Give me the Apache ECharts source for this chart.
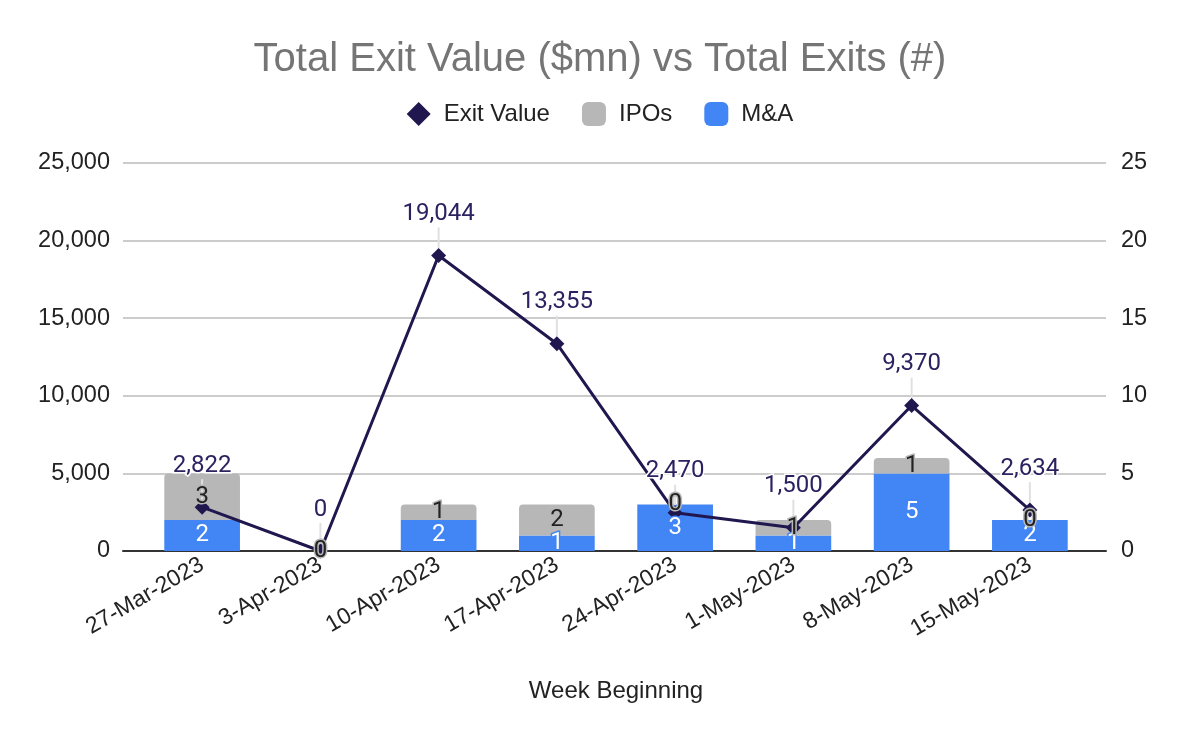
<!DOCTYPE html>
<html>
<head>
<meta charset="utf-8">
<script src="https://cdn.jsdelivr.net/npm/echarts@6/dist/echarts.min.js"></script>
<style>html,body{margin:0;padding:0;background:#fff}#c{width:1200px;height:742px}</style>
</head>
<body>
<div id="c"></div>
<script>
const categories = ['27-Mar-2023','3-Apr-2023','10-Apr-2023','17-Apr-2023','24-Apr-2023','1-May-2023','8-May-2023','15-May-2023'];
const exitValue = [2822, 0, 19044, 13355, 2470, 1500, 9370, 2634];
const ipos = [3, 0, 1, 2, 0, 1, 1, 0];
const mna = [2, 0, 2, 1, 3, 1, 5, 2];
const leftTicks = [0, 5000, 10000, 15000, 20000, 25000];
const rightTicks = [0, 5, 10, 15, 20, 25];

const axisFont = '"Liberation Sans", Arial, sans-serif';
const labelFont = 'Roboto, sans-serif';
const fmt = v => v.toLocaleString('en-US');

const chart = echarts.init(document.getElementById('c'), null, {renderer: 'canvas'});
const G_TOP = 163, G_BOTTOM = 191;

const mnaLabel = {show: true, position: 'inside', fontFamily: labelFont, fontSize: 24, color: '#fff',
                  textBorderColor: '#4285f4', textBorderWidth: 3};
const ipoLabel = {show: true, position: 'inside', fontFamily: labelFont, fontSize: 24, color: '#222',
                  textBorderColor: '#b7b7b7', textBorderWidth: 3};

chart.setOption({
  animation: false,
  title: {
    text: 'Total Exit Value ($mn) vs Total Exits (#)',
    left: 'center', top: 35,
    textStyle: {fontFamily: axisFont, fontSize: 40, fontWeight: 'normal', color: '#757575'}
  },
  legend: {
    top: 97, left: 'center',
    itemWidth: 24, itemHeight: 24, itemGap: 32,
    textStyle: {fontFamily: axisFont, fontSize: 24, color: '#222', padding: [0, 0, 0, 8]},
    data: [
      {name: 'Exit Value', icon: 'diamond'},
      {name: 'IPOs', icon: 'roundRect'},
      {name: 'M&A', icon: 'roundRect'}
    ]
  },
  grid: [
    {left: 123, right: 94, top: G_TOP, bottom: G_BOTTOM, containLabel: false},
    {left: 143, right: 111, top: G_TOP, bottom: G_BOTTOM, containLabel: false}
  ],
  xAxis: [
    {gridIndex: 0, type: 'value', min: 0, max: 1, show: true,
     axisLine: {show: true, onZero: false, lineStyle: {color: '#333', width: 2}},
     axisTick: {show: false}, axisLabel: {show: false}, splitLine: {show: false}},
    {gridIndex: 1, type: 'category', data: categories,
     axisLine: {show: false}, axisTick: {show: false},
     axisLabel: {rotate: 30, margin: 12, fontFamily: axisFont, fontSize: 23, color: '#222'},
     name: 'Week Beginning', nameLocation: 'middle', nameGap: 128,
     nameTextStyle: {fontFamily: axisFont, fontSize: 24, color: '#222'}}
  ],
  yAxis: [
    {gridIndex: 0, type: 'value', position: 'left', min: leftTicks[0], max: leftTicks[leftTicks.length-1], interval: 5000,
     axisLine: {show: false}, axisTick: {show: false},
     axisLabel: {margin: 13, fontFamily: axisFont, fontSize: 23.5, color: '#222', formatter: v => fmt(v)},
     splitLine: {show: true, lineStyle: {color: '#cccccc', width: 2}}},
    {gridIndex: 0, type: 'value', position: 'right', min: rightTicks[0], max: rightTicks[rightTicks.length-1], interval: 5,
     axisLine: {show: false}, axisTick: {show: false},
     axisLabel: {margin: 15, fontFamily: axisFont, fontSize: 23.5, color: '#222'},
     splitLine: {show: false}},
    {gridIndex: 1, type: 'value', min: 0, max: 25000, interval: 5000, show: false, splitLine: {show: false}},
    {gridIndex: 1, type: 'value', min: 0, max: 25, interval: 5, show: false, splitLine: {show: false}}
  ],
  series: [
    {
      name: 'M&A', type: 'bar', stack: 'exits', xAxisIndex: 1, yAxisIndex: 3,
      barCategoryGap: '36%', barGap: '-100%',
      itemStyle: {color: '#4285f4'},
      data: mna
    },
    {
      name: 'IPOs', type: 'bar', stack: 'exits', xAxisIndex: 1, yAxisIndex: 3,
      itemStyle: {color: '#b7b7b7', borderRadius: [4, 4, 0, 0]},
      data: ipos
    },
    {
      name: 'Exit Value', type: 'line', xAxisIndex: 1, yAxisIndex: 2, z: 5,
      symbol: 'diamond', symbolSize: 15,
      itemStyle: {color: '#21174f'},
      lineStyle: {color: '#21174f', width: 3},
      data: exitValue,
      label: {show: true, position: 'top', distance: 6, fontFamily: labelFont, fontSize: 24, color: '#2b2260',
              textBorderColor: '#fff', textBorderWidth: 3, formatter: p => fmt(p.value)},
      labelLayout: {dy: -16},
      labelLine: {show: true, lineStyle: {color: '#e0e0e0', width: 2}}
    },
    // transparent overlay carrying the bar labels so they sit above the line
    {
      name: 'M&A labels', type: 'bar', stack: 'labels', xAxisIndex: 1, yAxisIndex: 3, z: 10,
      silent: true, itemStyle: {color: 'rgba(0,0,0,0)'},
      data: mna.map(v => ({value: v, label: {show: v !== 0}})),
      label: mnaLabel
    },
    {
      name: 'IPOs labels', type: 'bar', stack: 'labels', xAxisIndex: 1, yAxisIndex: 3, z: 10,
      silent: true, itemStyle: {color: 'rgba(0,0,0,0)'},
      data: ipos,
      label: ipoLabel
    }
  ]
});
</script>
</body>
</html>
